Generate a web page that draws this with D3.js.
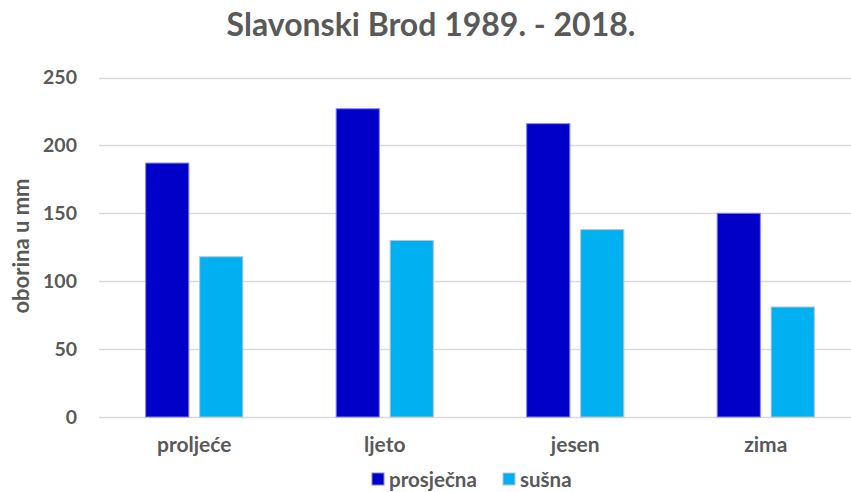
<!DOCTYPE html>
<html lang="hr">
<head>
<meta charset="utf-8">
<title>Slavonski Brod</title>
<script src="https://d3js.org/d3.v7.min.js"></script>
<style>
  body { margin: 0; background: #fff; }
  text { font-family: Lato, "Open Sans", sans-serif; font-weight: bold; fill: #595959; }
</style>
</head>
<body>
<div id="chart"></div>
<script>
// data
const seasons = ["proljeće", "ljeto", "jesen", "zima"];
const seriesNames = ["prosječna", "sušna"];
const prosjecna = [187, 227, 216, 150];
const susna = [118, 130, 138, 81];
const yTicks = [0, 50, 100, 150, 200, 250];

const colors = {"prosječna": "#0000c8", "sušna": "#00b0f0"};
const outlines = {"prosječna": "#8080ff", "sušna": "#b8c4cc"};

var W = 851, H = 492;
var margin = {top: 78, right: -10, bottom: 75, left: 99};

const svg = d3.select("#chart")
  .append("svg")
    .attr("width", W)
    .attr("height", H);

var table = seasons.map((s, i) => ({season: s, "prosječna": prosjecna[i], "sušna": susna[i]}));

var x = d3.scaleBand()
  .domain(seasons)
  .range([margin.left, W - margin.right])
  .paddingInner(0.49)
  .paddingOuter(0.245);

var x1 = d3.scaleBand()
  .domain(seriesNames)
  .range([0, x.bandwidth()])
  .paddingInner(0.2);

var y = d3.scaleLinear()
  .domain([0, 250])
  .range([417, 77.5]);

// gridlines
svg.append("g")
  .selectAll("line")
  .data(yTicks)
  .join("line")
    .attr("x1", margin.left)
    .attr("x2", W)
    .attr("y1", d => Math.round(y(d)) + 0.5)
    .attr("y2", d => Math.round(y(d)) + 0.5)
    .attr("stroke", "#d9d9d9")
    .attr("stroke-width", 1.3);

// y tick labels
svg.append("g")
  .selectAll("text")
  .data(yTicks)
  .join("text")
    .attr("x", 77)
    .attr("y", d => y(d))
    .attr("dy", "0.35em")
    .attr("text-anchor", "end")
    .style("font-size", "19.5px")
    .text(d => d);

// bars
var groups = svg.append("g")
  .selectAll("g")
  .data(table)
  .join("g")
    .attr("transform", d => `translate(${x(d.season)},0)`);

groups.selectAll("rect")
  .data(d => seriesNames.map(k => ({key: k, value: d[k]})))
  .join("rect")
    .attr("x", d => x1(d.key))
    .attr("y", d => y(d.value))
    .attr("width", x1.bandwidth())
    .attr("height", d => y(0) - y(d.value))
    .attr("fill", d => colors[d.key])
    .attr("stroke", d => outlines[d.key])
    .attr("stroke-width", 1);

// category labels
svg.append("g")
  .selectAll("text")
  .data(seasons)
  .join("text")
    .attr("x", d => x(d) + x.bandwidth() / 2)
    .attr("y", 452)
    .attr("text-anchor", "middle")
    .style("font-size", "21px")
    .text(d => d);

// title
svg.append("text")
  .attr("x", 431)
  .attr("y", 36)
  .attr("text-anchor", "middle")
  .style("font-size", "32px")
  .text("Slavonski Brod 1989. - 2018.");

// y label
svg.append("text")
  .attr("transform", "translate(29,246) rotate(-90)")
  .attr("text-anchor", "middle")
  .style("font-size", "22px")
  .text("oborina u mm");

// legend
var legendX = [372, 503];
var legend = svg.append("g")
  .selectAll("g")
  .data(seriesNames)
  .join("g")
    .attr("transform", (d, i) => `translate(${legendX[i]},479)`);

legend.append("rect")
  .attr("x", 0)
  .attr("y", -6)
  .attr("width", 12)
  .attr("height", 12)
  .attr("fill", d => colors[d])
  .attr("stroke", d => outlines[d]);

legend.append("text")
  .attr("x", 17)
  .attr("y", 1)
  .attr("dy", "0.35em")
  .style("font-size", "20.5px")
  .text(d => d);
</script>
</body>
</html>
